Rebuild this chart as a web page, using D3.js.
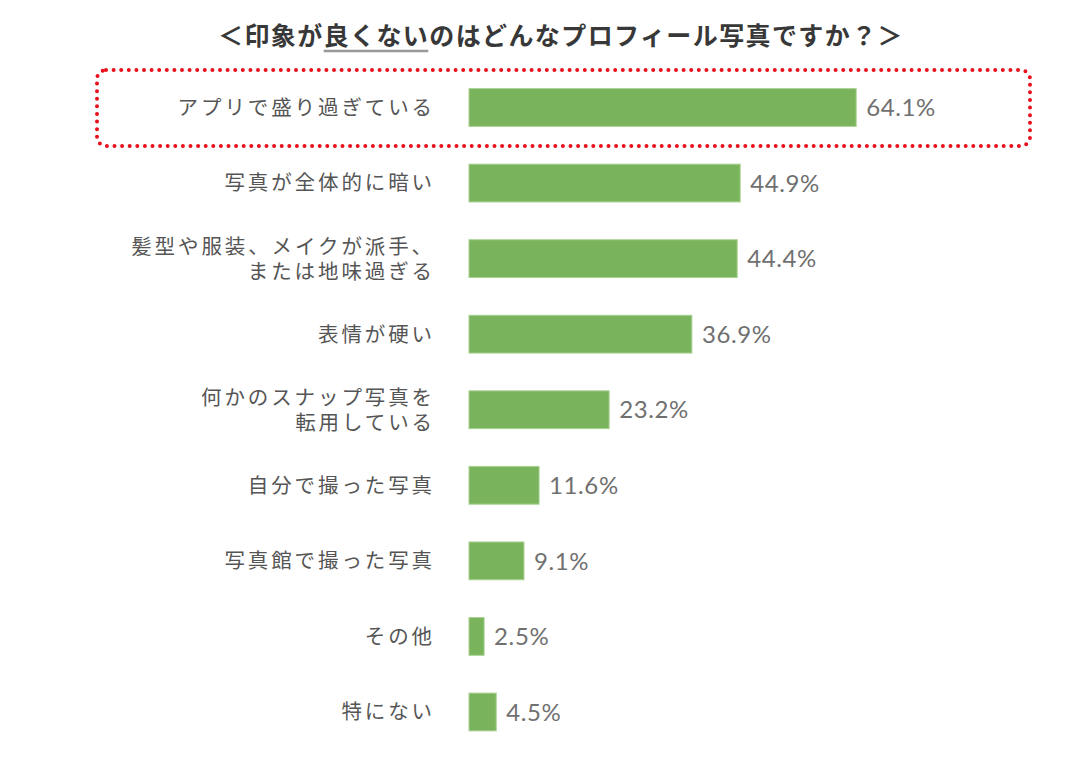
<!DOCTYPE html>
<html><head><meta charset="utf-8">
<script src="https://cdn.jsdelivr.net/npm/d3@7"></script>
<style>body{margin:0;background:#fff}svg{display:block}</style>
</head><body><svg id="c" width="1087" height="765"></svg>
<script>
const categories = [
  ["アプリで盛り過ぎている"],
  ["写真が全体的に暗い"],
  ["髪型や服装、メイクが派手、","または地味過ぎる"],
  ["表情が硬い"],
  ["何かのスナップ写真を","転用している"],
  ["自分で撮った写真"],
  ["写真館で撮った写真"],
  ["その他"],
  ["特にない"]
];
const values = [64.1, 44.9, 44.4, 36.9, 23.2, 11.6, 9.1, 2.5, 4.5];
const titleParts = ["＜印象が", "良くない", "のはどんなプロフィール写真ですか？＞"];

const svg = d3.select("#c");
const jp = "'Noto Sans CJK JP','Noto Sans',sans-serif";
const step = 75.56;
const y = d3.scaleBand().domain(d3.range(categories.length))
  .range([107.5 - step/2, 107.5 - step/2 + step*categories.length])
  .paddingInner(0.5).paddingOuter(0.25);
const x = d3.scaleLinear().domain([0, 100]).range([469, 469 + 604]);

// highlight box
svg.append("rect").attr("x", 97).attr("y", 70).attr("width", 933).attr("height", 76)
  .attr("rx", 9).attr("fill", "none").attr("stroke", "#e8101c")
  .attr("stroke-width", 4).attr("stroke-linecap", "round").attr("stroke-dasharray", "0 7.6");

// title
const title = svg.append("text").attr("x", 561).attr("y", 45).attr("text-anchor", "middle")
  .attr("font-family", jp).attr("font-weight", "bold").attr("font-size", 25)
  .attr("letter-spacing", 1.4).attr("fill", "#383838");
titleParts.forEach(p => title.append("tspan").text(p));
const n0 = title.node();
const bb = n0.getBBox();
const start0 = n0.getSubStringLength(0, titleParts[0].length);
const len1 = n0.getSubStringLength(titleParts[0].length, titleParts[1].length);
svg.append("line").attr("x1", bb.x + start0).attr("x2", bb.x + start0 + len1 - 1)
  .attr("y1", 51).attr("y2", 51).attr("stroke", "#999").attr("stroke-width", 2.5);

// bars
svg.selectAll("rect.bar").data(values).join("rect").attr("class", "bar")
  .attr("x", x(0)).attr("y", (d, i) => y(i)).attr("height", y.bandwidth())
  .attr("width", d => x(d) - x(0)).attr("fill", "#79b35b")
  .attr("stroke", "#a9d193").attr("stroke-width", 1);

// values
svg.selectAll("text.val").data(values).join("text").attr("class", "val")
  .attr("x", d => x(d) + 10).attr("y", (d, i) => y(i) + y.bandwidth()/2)
  .attr("dy", "0.36em").attr("font-family", "Lato, 'Open Sans', sans-serif")
  .attr("font-weight", 400).attr("letter-spacing", 0.6)
  .attr("font-size", 24).attr("fill", "#707070").text(d => d + "%");

// category labels (one text element per line)
const lh = 25;
const lines = [];
categories.forEach((d, i) => d.forEach((line, k) => lines.push({i, k, n: d.length, line})));
svg.selectAll("text.lab").data(lines).join("text").attr("class", "lab")
  .attr("text-anchor", "end").attr("font-family", jp).attr("font-size", 20.5)
  .attr("letter-spacing", 2.9).attr("fill", "#555")
  .attr("x", 435)
  .attr("y", d => y(d.i) + y.bandwidth()/2 + (d.k - (d.n - 1)/2) * lh)
  .attr("dy", "0.36em")
  .text(d => d.line);
</script></body></html>
